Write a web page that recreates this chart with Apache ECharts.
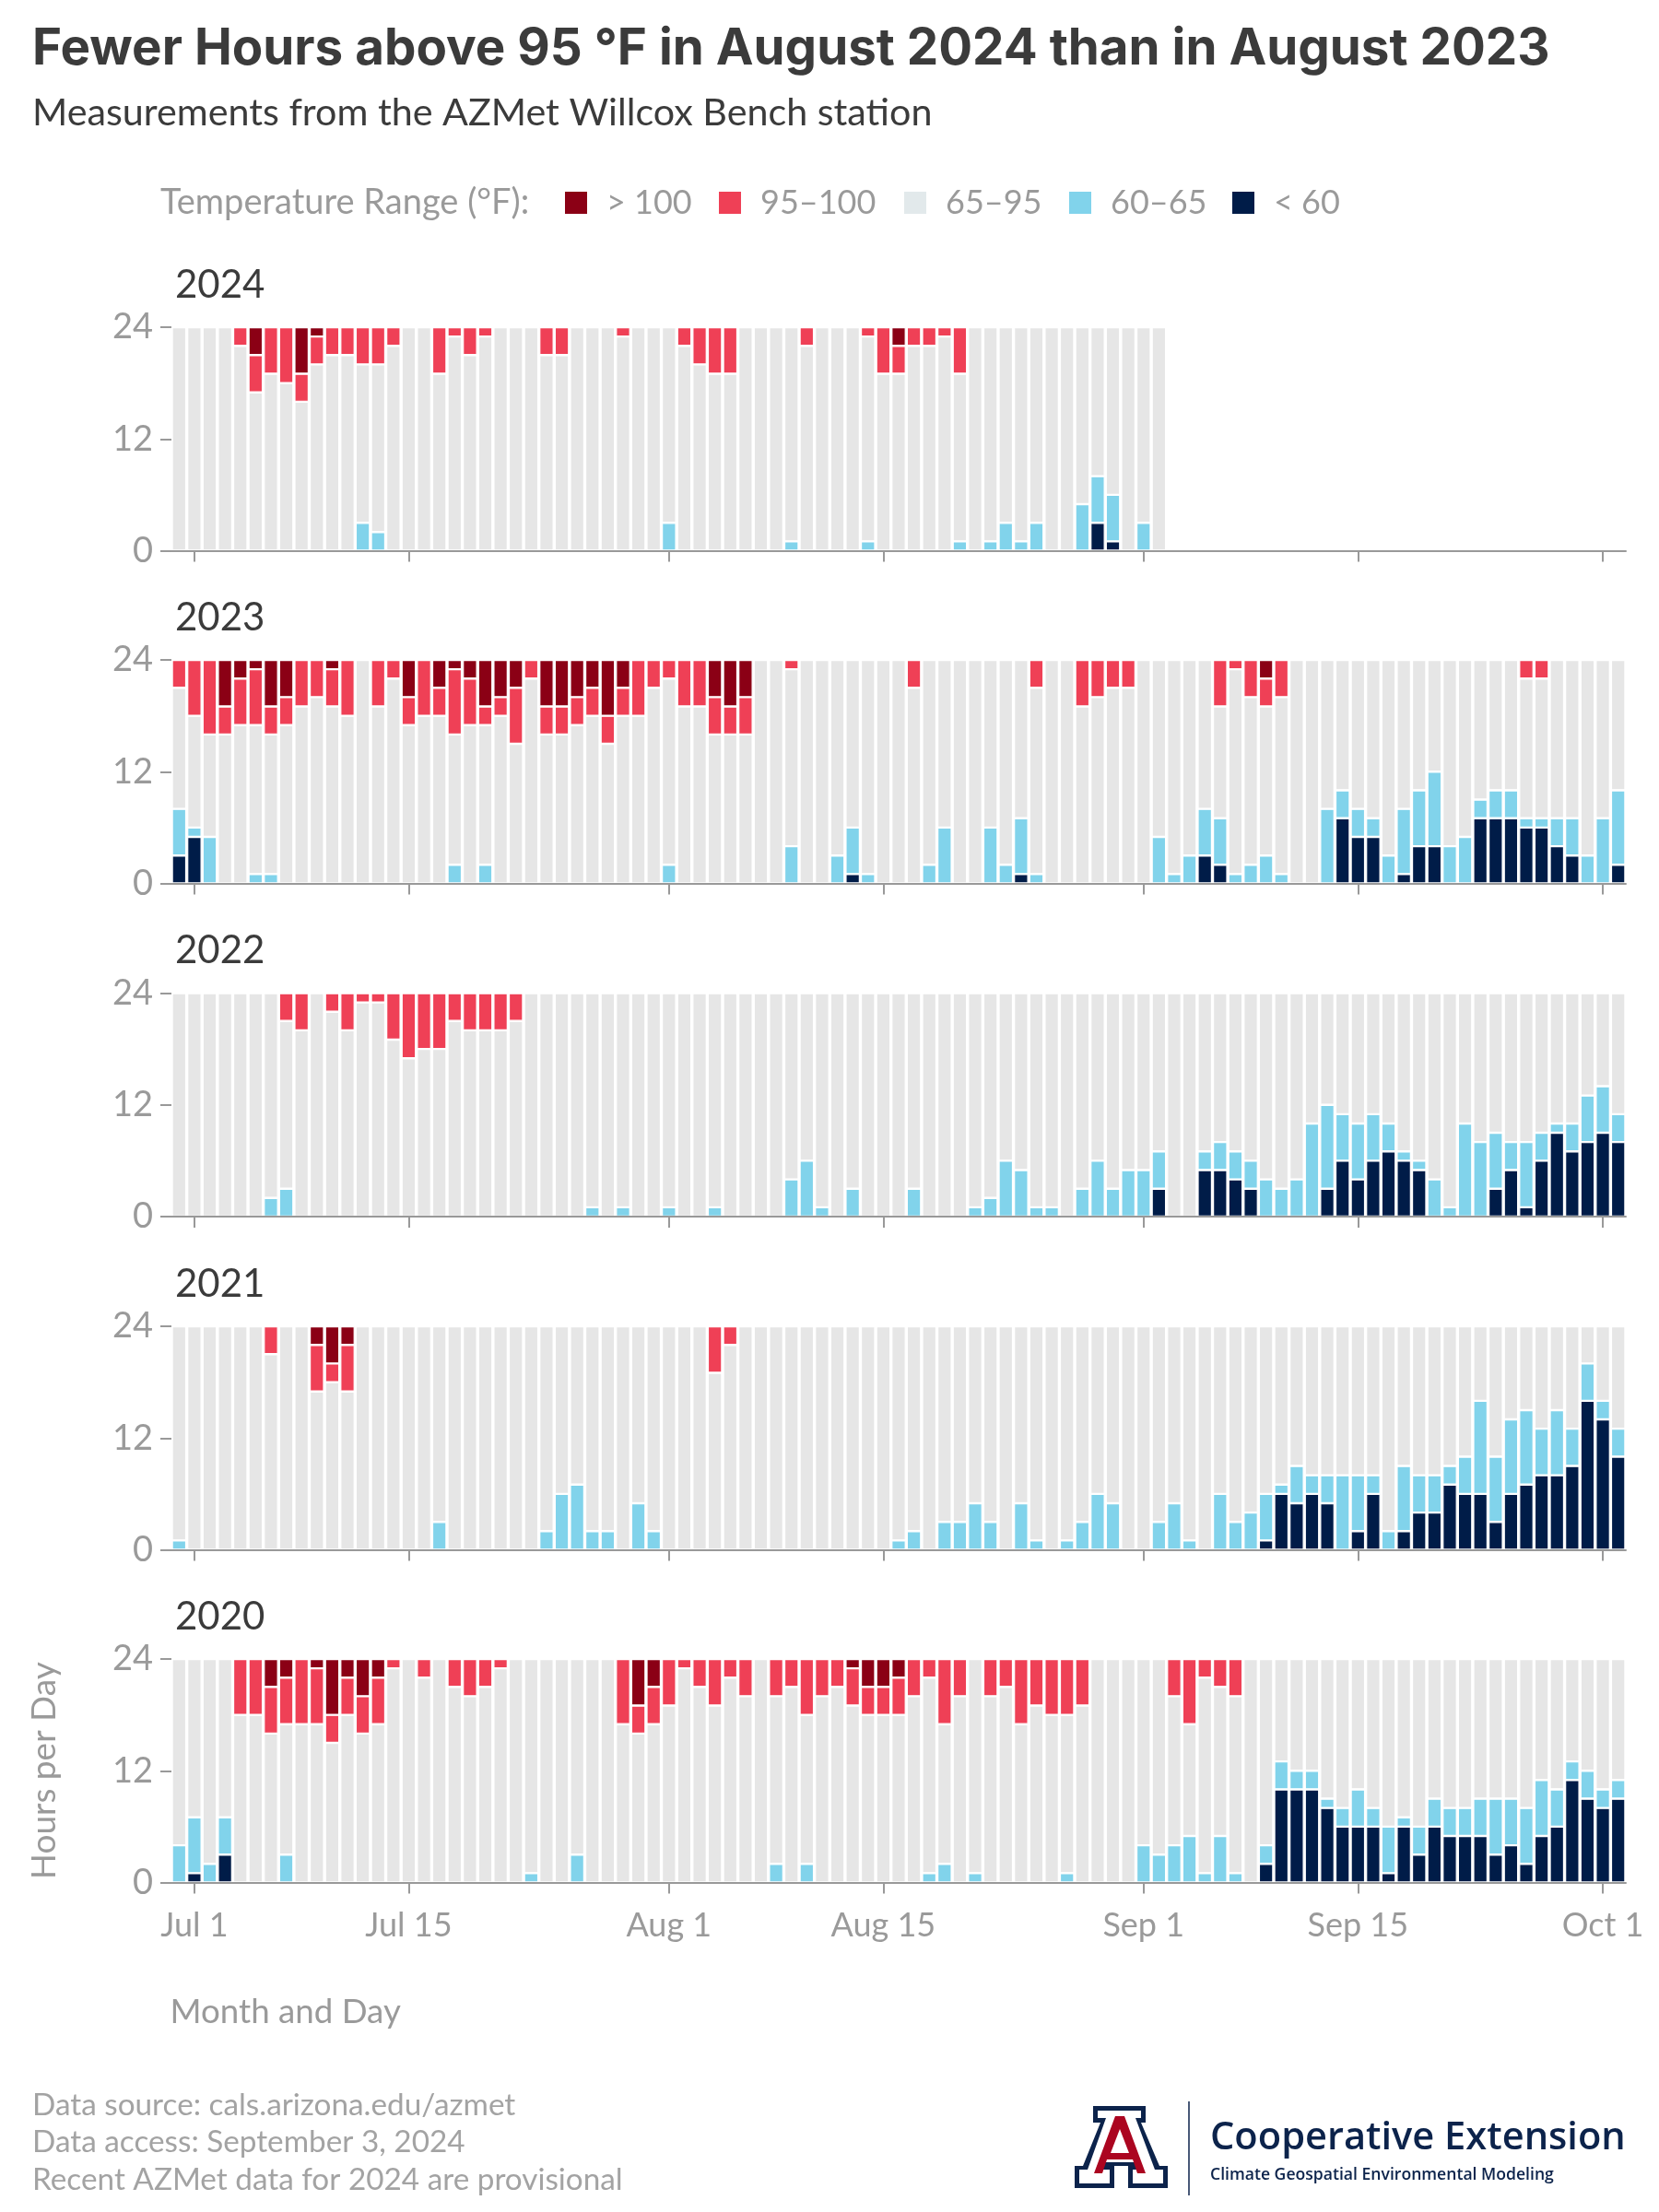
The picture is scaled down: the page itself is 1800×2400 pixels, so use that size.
<!DOCTYPE html>
<html>
<head>
<meta charset="utf-8">
<style>html,body{margin:0;padding:0;background:#fff}#chart{width:1800px;height:2400px}</style>
<script src="https://cdn.jsdelivr.net/npm/echarts@6/dist/echarts.min.js"></script>
</head>
<body>
<div id="chart"></div>
<script>
// Tick labels and their day positions on the shared axis
const xTickLabels = ['Jul 1','Jul 15','Aug 1','Aug 15','Sep 1','Sep 15','Oct 1'];
const yTickValues = [0, 12, 24];
const years = [2024, 2023, 2022, 2021, 2020];
const rangeNames = ['> 100', '95–100', '65–95', '60–65', '< 60'];

// Hours per day in each temperature range, from Jun 30 to Oct 2, ten values per row
const above100_2024 = [
0,0,0,0,0,3,0,0,5,1, 0,0,0,0,0,0,0,0,0,0, 0,0,0,0,0,0,0,0,0,0, 0,0,0,0,0,0,0,0,0,0,
0,0,0,0,0,0,0,2,0,0, 0,0,0,0,0,0,0,0,0,0, 0,0,0,0,0];
const from95to100_2024 = [
0,0,0,0,2,4,5,6,3,3, 3,3,4,4,2,0,0,5,1,3, 1,0,0,0,3,3,0,0,0,1, 0,0,0,2,4,5,5,0,0,0,
0,2,0,0,0,1,5,3,2,2, 1,5,0,0,0,0,0,0,0,0, 0,0,0,0,0];
const from60to65_2024 = [
0,0,0,0,0,0,0,0,0,0, 0,0,3,2,0,0,0,0,0,0, 0,0,0,0,0,0,0,0,0,0, 0,0,3,0,0,0,0,0,0,0,
1,0,0,0,0,1,0,0,0,0, 0,1,0,1,3,1,3,0,0,5, 5,5,0,3,0];
const below60_2024 = [
0,0,0,0,0,0,0,0,0,0, 0,0,0,0,0,0,0,0,0,0, 0,0,0,0,0,0,0,0,0,0, 0,0,0,0,0,0,0,0,0,0,
0,0,0,0,0,0,0,0,0,0, 0,0,0,0,0,0,0,0,0,0, 3,1,0,0,0];

const above100_2023 = [
0,0,0,5,2,1,5,4,0,0, 1,0,0,0,0,4,0,3,1,2, 5,4,3,0,5,5,4,3,6,3, 0,0,0,0,0,4,5,4,0,0,
0,0,0,0,0,0,0,0,0,0, 0,0,0,0,0,0,0,0,0,0, 0,0,0,0,0,0,0,0,0,0, 0,2,0,0,0,0,0,0,0,0,
0,0,0,0,0,0,0,0,0,0, 0,0,0,0,0];
const from95to100_2023 = [
3,6,8,3,5,6,3,3,5,4, 4,6,0,5,2,3,6,3,7,5, 2,2,6,2,3,3,3,3,3,3, 6,3,2,5,5,4,3,4,0,0,
1,0,0,0,0,0,0,0,3,0, 0,0,0,0,0,0,3,0,0,5, 4,3,3,0,0,0,0,0,5,1, 4,3,4,0,0,0,0,0,0,0,
0,0,0,0,0,0,0,0,2,2, 0,0,0,0,0];
const from60to65_2023 = [
5,1,5,0,0,1,1,0,0,0, 0,0,0,0,0,0,0,0,2,0, 2,0,0,0,0,0,0,0,0,0, 0,0,2,0,0,0,0,0,0,0,
4,0,0,3,5,1,0,0,0,2, 6,0,0,6,2,6,1,0,0,0, 0,0,0,0,5,1,3,5,5,1, 2,3,1,0,0,8,3,3,2,3,
7,6,8,4,5,2,3,3,1,1, 3,4,3,7,8];
const below60_2023 = [
3,5,0,0,0,0,0,0,0,0, 0,0,0,0,0,0,0,0,0,0, 0,0,0,0,0,0,0,0,0,0, 0,0,0,0,0,0,0,0,0,0,
0,0,0,0,1,0,0,0,0,0, 0,0,0,0,0,1,0,0,0,0, 0,0,0,0,0,0,0,3,2,0, 0,0,0,0,0,0,7,5,5,0,
1,4,4,0,0,7,7,7,6,6, 4,3,0,0,2];

const above100_2022 = [
0,0,0,0,0,0,0,0,0,0, 0,0,0,0,0,0,0,0,0,0, 0,0,0,0,0,0,0,0,0,0, 0,0,0,0,0,0,0,0,0,0,
0,0,0,0,0,0,0,0,0,0, 0,0,0,0,0,0,0,0,0,0, 0,0,0,0,0,0,0,0,0,0, 0,0,0,0,0,0,0,0,0,0,
0,0,0,0,0,0,0,0,0,0, 0,0,0,0,0];
const from95to100_2022 = [
0,0,0,0,0,0,0,3,4,0, 2,4,1,1,5,7,6,6,3,4, 4,4,3,0,0,0,0,0,0,0, 0,0,0,0,0,0,0,0,0,0,
0,0,0,0,0,0,0,0,0,0, 0,0,0,0,0,0,0,0,0,0, 0,0,0,0,0,0,0,0,0,0, 0,0,0,0,0,0,0,0,0,0,
0,0,0,0,0,0,0,0,0,0, 0,0,0,0,0];
const from60to65_2022 = [
0,0,0,0,0,0,2,3,0,0, 0,0,0,0,0,0,0,0,0,0, 0,0,0,0,0,0,0,1,0,1, 0,0,1,0,0,1,0,0,0,0,
4,6,1,0,3,0,0,0,3,0, 0,0,1,2,6,5,1,1,0,3, 6,3,5,5,4,0,0,2,3,3, 3,4,3,4,10,9,5,6,5,3,
1,1,4,1,10,8,6,3,7,3, 1,3,5,5,3];
const below60_2022 = [
0,0,0,0,0,0,0,0,0,0, 0,0,0,0,0,0,0,0,0,0, 0,0,0,0,0,0,0,0,0,0, 0,0,0,0,0,0,0,0,0,0,
0,0,0,0,0,0,0,0,0,0, 0,0,0,0,0,0,0,0,0,0, 0,0,0,0,3,0,0,5,5,4, 3,0,0,0,0,3,6,4,6,7,
6,5,0,0,0,0,3,5,1,6, 9,7,8,9,8];

const above100_2021 = [
0,0,0,0,0,0,0,0,0,2, 4,2,0,0,0,0,0,0,0,0, 0,0,0,0,0,0,0,0,0,0, 0,0,0,0,0,0,0,0,0,0,
0,0,0,0,0,0,0,0,0,0, 0,0,0,0,0,0,0,0,0,0, 0,0,0,0,0,0,0,0,0,0, 0,0,0,0,0,0,0,0,0,0,
0,0,0,0,0,0,0,0,0,0, 0,0,0,0,0];
const from95to100_2021 = [
0,0,0,0,0,0,3,0,0,5, 2,5,0,0,0,0,0,0,0,0, 0,0,0,0,0,0,0,0,0,0, 0,0,0,0,0,5,2,0,0,0,
0,0,0,0,0,0,0,0,0,0, 0,0,0,0,0,0,0,0,0,0, 0,0,0,0,0,0,0,0,0,0, 0,0,0,0,0,0,0,0,0,0,
0,0,0,0,0,0,0,0,0,0, 0,0,0,0,0];
const from60to65_2021 = [
1,0,0,0,0,0,0,0,0,0, 0,0,0,0,0,0,0,3,0,0, 0,0,0,0,2,6,7,2,2,0, 5,2,0,0,0,0,0,0,0,0,
0,0,0,0,0,0,0,1,2,0, 3,3,5,3,0,5,1,0,1,3, 6,5,0,0,3,5,1,0,6,3, 4,5,1,4,2,3,8,6,2,2,
7,4,4,2,4,10,7,8,8,5, 7,4,4,2,3];
const below60_2021 = [
0,0,0,0,0,0,0,0,0,0, 0,0,0,0,0,0,0,0,0,0, 0,0,0,0,0,0,0,0,0,0, 0,0,0,0,0,0,0,0,0,0,
0,0,0,0,0,0,0,0,0,0, 0,0,0,0,0,0,0,0,0,0, 0,0,0,0,0,0,0,0,0,0, 0,1,6,5,6,5,0,2,6,0,
2,4,4,7,6,6,3,6,7,8, 8,9,16,14,10];

const above100_2020 = [
0,0,0,0,0,0,3,2,0,1, 6,2,4,2,0,0,0,0,0,0, 0,0,0,0,0,0,0,0,0,0, 5,3,0,0,0,0,0,0,0,0,
0,0,0,0,1,3,3,2,0,0, 0,0,0,0,0,0,0,0,0,0, 0,0,0,0,0,0,0,0,0,0, 0,0,0,0,0,0,0,0,0,0,
0,0,0,0,0,0,0,0,0,0, 0,0,0,0,0];
const from95to100_2020 = [
0,0,0,0,6,6,5,5,7,6, 3,4,4,5,1,0,2,0,3,4, 3,1,0,0,0,0,0,0,0,7, 3,4,5,1,3,5,2,4,0,4,
3,6,4,3,4,3,3,4,4,2, 7,4,0,4,3,7,5,6,6,5, 0,0,0,0,0,4,7,2,3,4, 0,0,0,0,0,0,0,0,0,0,
0,0,0,0,0,0,0,0,0,0, 0,0,0,0,0];
const from60to65_2020 = [
4,6,2,4,0,0,0,3,0,0, 0,0,0,0,0,0,0,0,0,0, 0,0,0,1,0,0,3,0,0,0, 0,0,0,0,0,0,0,0,0,2,
0,2,0,0,0,0,0,0,0,1, 2,0,1,0,0,0,0,0,1,0, 0,0,0,4,3,4,5,1,5,1, 0,2,3,2,2,1,2,4,2,5,
1,3,3,3,3,4,6,5,6,6, 4,2,3,2,2];
const below60_2020 = [
0,1,0,3,0,0,0,0,0,0, 0,0,0,0,0,0,0,0,0,0, 0,0,0,0,0,0,0,0,0,0, 0,0,0,0,0,0,0,0,0,0,
0,0,0,0,0,0,0,0,0,0, 0,0,0,0,0,0,0,0,0,0, 0,0,0,0,0,0,0,0,0,0, 0,2,10,10,10,8,6,6,6,1,
6,3,6,5,5,5,3,4,2,5, 6,11,9,8,9];

const measurements = {
  2024: [above100_2024, from95to100_2024, from60to65_2024, below60_2024],
  2023: [above100_2023, from95to100_2023, from60to65_2023, below60_2023],
  2022: [above100_2022, from95to100_2022, from60to65_2022, below60_2022],
  2021: [above100_2021, from95to100_2021, from60to65_2021, below60_2021],
  2020: [above100_2020, from95to100_2020, from60to65_2020, below60_2020]
};

// Axis categories: every day from Jun 30 to Oct 2
const months = [['Jun',30,30],['Jul',1,31],['Aug',1,31],['Sep',1,30],['Oct',1,2]];
const categories = [];
months.forEach(([m, a, b]) => { for (let d = a; d <= b; d++) categories.push(m + ' ' + d); });
const isTick = (i, v) => xTickLabels.includes(v === undefined ? categories[i] : v);

const FONT = 'Lato';
const GREY = '#9a9a9a';
const COL = { hot2: '#8b0015', hot1: '#ef4056', mid: '#e6e6e6', cool: '#81d3eb', cold: '#001c48', midKey: '#e2e9eb' };
const panelTop = [355, 716, 1077.5, 1439, 1800];
const panelH = 242.5;

const nz = a => categories.map((_, i) => (a[i] ? a[i] : null));

const grid = [], xAxis = [], yAxis = [], series = [];
years.forEach((yr, k) => {
  const [a, h, c, l] = measurements[yr];
  // The rest of each recorded day is spent between 65 and 95 °F
  const mid = categories.map((_, i) => (i < a.length ? 24 - a[i] - h[i] - c[i] - l[i] : null));
  grid.push({ left: 186, width: 1578, top: panelTop[k], height: panelH, containLabel: false });
  const last = k === years.length - 1;
  xAxis.push({
    type: 'category', gridIndex: k, data: categories, boundaryGap: true, z: 5,
    axisLine: { show: true, lineStyle: { color: '#999', width: 2 } },
    axisTick: { show: true, alignWithLabel: true, length: 12, interval: isTick, lineStyle: { color: '#999', width: 2 } },
    axisLabel: { show: last, interval: isTick, margin: 29, color: GREY, fontFamily: FONT, fontSize: 36, hideOverlap: false },
    name: last ? 'Month and Day' : '',
    nameLocation: 'start', nameGap: 1.5,
    nameTextStyle: { color: GREY, fontFamily: FONT, fontSize: 36.7, align: 'left', verticalAlign: 'top', padding: [122, 0, 0, 0] }
  });
  yAxis.push({
    type: 'value', gridIndex: k, min: 0, max: 24, interval: 12,
    axisLine: { show: false }, splitLine: { show: false },
    axisTick: { show: true, length: 12, lineStyle: { color: '#999', width: 2 } },
    axisLabel: { margin: 20, color: GREY, fontFamily: FONT, fontSize: 38, padding: [3, 0, 0, 0], customValues: yTickValues },
    name: last ? 'Hours per Day' : '',
    nameLocation: 'middle', nameGap: 119, nameRotate: 90,
    nameTextStyle: { color: GREY, fontFamily: FONT, fontSize: 37 }
  });
  const add = (name, data, color) => series.push({
    name, type: 'bar', stack: 'day' + yr, xAxisIndex: k, yAxisIndex: k, data,
    barWidth: 15.6, animation: false, silent: true,
    itemStyle: { color, borderColor: '#fff', borderWidth: 1.2 }
  });
  add(rangeNames[4], nz(l), COL.cold);
  add(rangeNames[3], nz(c), COL.cool);
  add(rangeNames[2], mid, COL.mid);
  add(rangeNames[1], nz(h), COL.hot1);
  add(rangeNames[0], nz(a), COL.hot2);
});

const text = (t, left, top, size, color, weight, family) => ({
  text: t, left, top, padding: 0,
  textStyle: { color, fontFamily: family || FONT, fontSize: size, fontWeight: weight || 'normal' }
});
const title = [
  text('Fewer Hours above 95 °F in August 2024 than in August 2023', 35, 26, 54.7, '#3b3b3b', 'bold', 'Inter'),
  text('Measurements from the AZMet Willcox Bench station', 35, 102, 41.25, '#3b3b3b'),
  text('Temperature Range (°F):', 174, 200.5, 38, GREY),
  text('Data source: cals.arizona.edu/azmet', 35, 2268, 33.3, '#a3a3a3'),
  text('Data access: September 3, 2024', 35, 2308, 33.3, '#a3a3a3'),
  text('Recent AZMet data for 2024 are provisional', 35, 2349, 33.3, '#a3a3a3')
];
years.forEach((yr, k) => title.push(text(String(yr), 190, panelTop[k] - 67, 42, '#3b3b3b')));

const NAVY = '#0c234b', RED = '#ab0520';
const poly = (pts, fill) => ({ type: 'polygon', shape: { points: pts }, style: { fill }, silent: true });
const logo = [
  poly([[1186,2285],[1243,2285],[1243,2303],[1238,2303],[1258,2350],[1267,2350],[1267,2374],[1224,2374],[1224,2350],[1209,2350],[1209,2374],[1166,2374],[1166,2350],[1175,2350],[1194,2303],[1186,2303]], NAVY),
  poly([[1191,2290],[1238,2290],[1238,2298],[1232,2298],[1253,2354],[1262,2354],[1262,2369],[1229,2369],[1229,2354],[1238,2354],[1235,2346],[1198,2346],[1195,2354],[1204,2354],[1204,2369],[1171,2369],[1171,2354],[1180,2354],[1200,2298],[1191,2298]], '#fff'),
  poly([[1210,2296],[1220,2296],[1243,2358],[1234,2358],[1229,2343],[1201,2343],[1196,2358],[1187,2358]], RED),
  poly([[1215,2310],[1225,2336],[1205,2336]], '#fff'),
  { type: 'line', shape: { x1: 1290, y1: 2280, x2: 1290, y2: 2382 }, style: { stroke: NAVY, lineWidth: 1.5 }, silent: true },
  { type: 'text', x: 1313, y: 2320, silent: true, style: { text: 'Cooperative Extension', fill: NAVY, font: '600 41.6px "Open Sans"', textVerticalAlign: 'middle' } },
  { type: 'text', x: 1313, y: 2360, silent: true, style: { text: 'Climate Geospatial Environmental Modeling', fill: NAVY, font: '600 17.6px "Open Sans"', textVerticalAlign: 'middle' } }
];

// One legend block per temperature range so that each key sits where the reference has it
const keyColours = [COL.hot2, COL.hot1, COL.midKey, COL.cool, COL.cold];
const keyLeft = [611, 778, 979, 1158, 1335];
const legend = rangeNames.map((name, i) => ({
  left: keyLeft[i], top: 202, orient: 'horizontal', selectedMode: false,
  itemWidth: 26, itemHeight: 26, icon: 'rect', padding: 0,
  textStyle: { color: GREY, fontFamily: FONT, fontSize: 36, padding: [0, 0, 0, 15] },
  data: [{ name, itemStyle: { color: keyColours[i] } }]
}));

const chart = echarts.init(document.getElementById('chart'), null, { renderer: 'canvas', width: 1800, height: 2400 });
chart.setOption({
  animation: false,
  backgroundColor: '#fff',
  textStyle: { fontFamily: FONT },
  title, grid, xAxis, yAxis, series, legend,
  tooltip: { show: false },
  graphic: logo
});
</script>
</body>
</html>
